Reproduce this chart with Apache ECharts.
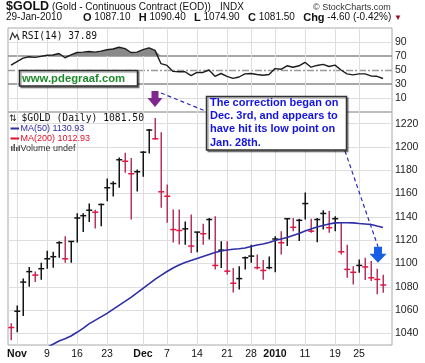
<!DOCTYPE html>
<html><head><meta charset="utf-8">
<script src="https://cdn.jsdelivr.net/npm/echarts/dist/echarts.min.js"></script>
<style>html,body{margin:0;padding:0;background:#fff}#c{width:425px;height:363px}</style>
</head><body><div id="c"></div><script>
const dates = ['10/30','11/2','11/3','11/4','11/5','11/6','11/9','11/10','11/11','11/12','11/13','11/16','11/17','11/18','11/19','11/20','11/23','11/24','11/25','11/26','11/27','11/30','12/1','12/2','12/3','12/4','12/7','12/8','12/9','12/10','12/11','12/14','12/15','12/16','12/17','12/18','12/21','12/22','12/23','12/24','12/28','12/29','12/30','12/31','1/4','1/5','1/6','1/7','1/8','1/11','1/12','1/13','1/14','1/15','1/19','1/20','1/21','1/22','1/25','1/26','1/27','1/28','1/29'];
const highs = [1048.6,1064,1087,1097,1093,1100.6,1111,1110,1119,1123.4,1119,1143,1143,1151.4,1146,1151.4,1172.9,1170.6,1191,1195,1190.6,1180.6,1196.3,1215.5,1224.9,1212.6,1167.7,1146.3,1146.3,1136,1142,1126.9,1134,1139,1140.6,1119,1119,1096,1097.7,1106,1116,1107.7,1103,1106,1123.4,1127.7,1139,1139,1138.4,1161,1138.4,1139,1145.7,1145,1140.6,1134.9,1116,1097.7,1103.4,1104.9,1102,1095.5,1090.4];
const lows = [1034,1041,1055,1080,1084,1086,1095.5,1096.4,1105,1100.7,1100.7,1118,1127,1135.5,1130,1132,1153.4,1157.4,1165,1177.9,1137.7,1161.7,1174.4,1194.3,1206.3,1147.8,1134.9,1118,1116.3,1116,1109,1109.7,1116,1120.6,1094.9,1096,1090.6,1075,1077.7,1094.9,1100.7,1094.9,1086,1095,1092.4,1107.7,1115,1127.7,1119.3,1137.7,1126.4,1118.3,1129.2,1126.4,1127.7,1107.7,1087.7,1082,1092,1085.7,1085,1073.5,1074.9];
const closes = [1045,1059,1084,1093,1090,1095.5,1104,1105.8,1117.8,1104,1118.9,1139,1141,1145.7,1144,1150.6,1165,1168.6,1189,1187.7,1177,1178.7,1195.5,1214.5,1207,1161.5,1157.7,1129.1,1128.3,1129.7,1114.9,1126.9,1125.5,1137.7,1098.3,1111.4,1093.4,1083,1087,1104.9,1106.3,1096.4,1094,1096.4,1121,1117.8,1138.4,1131,1137,1151.4,1127.7,1137.7,1142.9,1130.7,1138.4,1110,1094.9,1092.4,1098.3,1097,1087.7,1086.3,1081.5];
const priorClose = 1047.0;
const ma50 = [null,null,null,null,null,null,1028,1030.6,1033.4,1035.3,1037.7,1040.9,1044.3,1048.1,1051.1,1054.1,1057.1,1060.6,1064,1067.4,1070.9,1074.7,1078.6,1082.4,1086.3,1089.7,1093.1,1096.1,1098.7,1100.9,1102.6,1104.3,1106,1107.7,1109.4,1110.7,1111.6,1112.2,1112.6,1113.3,1114.6,1115.9,1116.7,1118,1119.7,1121,1122.3,1124,1125.7,1127.9,1129.6,1131.3,1132.6,1133.9,1134.8,1134.9,1134.9,1134.8,1134.3,1133.9,1133.4,1132.1,1130.93];
const rsi = [57,62,67,69,68,69.5,71,71.5,73.5,67.5,71.5,75,75.5,76.5,75.5,77,79,80,82.5,80.5,75,75.5,79,81.5,78,59,56.5,48,47.5,47.5,42,46.5,46.5,50,41,45,41,38,40,44.5,45,43.5,42.5,43.5,52,51,56,54,56,61,54,56.5,58,55,57,50,44.5,43,44.5,44.5,41.5,41,37.89];
const priceTicks = [1040,1060,1080,1100,1120,1140,1160,1180,1200,1220];
const rsiTicks = [10,30,50,70,90];
const weekDates = ['11/2','11/9','11/16','11/23','12/1','12/7','12/14','12/21','12/28','1/4','1/11','1/19','1/25'];
const weekLabels = ['Nov','9','16','23','Dec','7','14','21','28','2010','11','19','25'];
const boldLabels = ['Nov','Dec','2010'];

const cats = dates.concat(['']);
const FONT = '"Liberation Sans", Arial, sans-serif';
const MONO = '"DejaVu Sans Mono", monospace';

function renderBar(params, api) {
  const i = api.value(0);
  const h = api.coord([i, api.value(1)]);
  const l = api.coord([i, api.value(2)]);
  const c = api.coord([i, api.value(3)]);
  const prev = i > 0 ? closes[i - 1] : priorClose;
  const up = closes[i] >= prev;
  const lc = up ? '#141414' : '#b4345e';
  const tc = up ? '#141414' : '#e4143f';
  const x = Math.round(h[0]) + 0.25;
  return {type: 'group', children: [
    {type: 'line', shape: {x1: x, y1: h[1], x2: x, y2: l[1]}, style: {stroke: lc, lineWidth: 1.5}},
    {type: 'line', shape: {x1: x - 3, y1: c[1], x2: x + 3, y2: c[1]}, style: {stroke: tc, lineWidth: 1.5}}
  ]};
}

const gridLine = {color: '#dedede', width: 1, type: 'solid'};
const option = {
  animation: false,
  backgroundColor: '#fff',
  grid: [
    {left: 8, width: 384, top: 112, height: 233, show: true, borderColor: '#a8a8a8', borderWidth: 1},
    {left: 8, width: 384, top: 28, height: 84, show: true, borderColor: '#a8a8a8', borderWidth: 1}
  ],
  xAxis: [
    {type: 'category', gridIndex: 0, data: cats, boundaryGap: true,
     axisLine: {show: false}, axisTick: {show: false}, splitLine: {show: false},
     axisLabel: {interval: (idx, v) => weekDates.includes(v), margin: 4, fontSize: 10.5, fontFamily: FONT, color: '#111',
       formatter: v => { const k = weekDates.indexOf(v); if (k < 0) return ''; const t = weekLabels[k]; return boldLabels.includes(t) ? '{b|' + t + '}' : t; },
       rich: {b: {fontWeight: 'bold', fontSize: 10.5, fontFamily: FONT, color: '#111'}}}},
    {type: 'category', gridIndex: 1, data: cats, boundaryGap: true,
     axisLine: {show: false}, axisTick: {show: false}, axisLabel: {show: false}, splitLine: {show: false}}
  ],
  yAxis: [
    {type: 'value', gridIndex: 0, position: 'right', min: 1030, max: 1230, interval: 10,
     axisLine: {show: false}, axisTick: {show: false}, splitLine: {show: false},
     axisLabel: {formatter: v => priceTicks.includes(Math.round(v)) ? String(Math.round(v)) : '', margin: 3, fontSize: 10.5, fontFamily: FONT, color: '#222'}},
    {type: 'value', gridIndex: 1, position: 'right', min: -10, max: 110, interval: 10,
     axisLine: {show: false}, axisTick: {show: false}, splitLine: {show: false},
     axisLabel: {formatter: v => rsiTicks.includes(Math.round(v)) ? String(Math.round(v)) : '', margin: 3, fontSize: 10.5, fontFamily: FONT, color: '#222'}}
  ],
  series: [
    {type: 'custom', name: 'GOLD', xAxisIndex: 0, yAxisIndex: 0, z: 3, clip: true,
     data: dates.map((d, i) => [i, highs[i], lows[i], closes[i]]),
     encode: {x: 0, y: [1, 2, 3]}, renderItem: renderBar},
    {type: 'line', name: 'MA(50)', xAxisIndex: 0, yAxisIndex: 0, z: 4, data: ma50, showSymbol: false, symbol: 'none',
     lineStyle: {color: '#2e2ea6', width: 1.6}, itemStyle: {color: '#2e2ea6'}, clip: true,
     markLine: {z: 1, silent: true, symbol: ['none', 'none'], label: {show: false}, lineStyle: gridLine,
       data: priceTicks.map(v => ({yAxis: v})).concat(weekDates.map(d => ({xAxis: d})))}},
    {type: 'line', name: 'obBase', xAxisIndex: 1, yAxisIndex: 1, stack: 'ob', z: 2, silent: true,
     data: rsi.map(() => 70), symbol: 'none', lineStyle: {width: 0, opacity: 0}},
    {type: 'line', name: 'obFill', xAxisIndex: 1, yAxisIndex: 1, stack: 'ob', z: 2, silent: true,
     data: rsi.map(v => Math.max(v - 70, 0)), symbol: 'none', lineStyle: {width: 0, opacity: 0},
     areaStyle: {color: '#8a8a8a', opacity: 1}},
    {type: 'line', name: 'RSI(14)', xAxisIndex: 1, yAxisIndex: 1, z: 4, data: rsi, symbol: 'none',
     lineStyle: {color: '#1c1c1c', width: 1.4},
     markLine: {z: 1, silent: true, symbol: ['none', 'none'], label: {show: false}, lineStyle: gridLine,
       data: [
         {yAxis: 90}, {yAxis: 10},
         {yAxis: 70, lineStyle: {color: '#8a8a8a', width: 1.6, type: 'solid'}},
         {yAxis: 30, lineStyle: {color: '#8a8a8a', width: 1.6, type: 'solid'}},
         {yAxis: 50, lineStyle: {color: '#9a9a9a', width: 1.4, type: [7, 2, 2, 2]}}
       ].concat(weekDates.map(d => ({xAxis: d})))}}
  ]
};

const chart = echarts.init(document.getElementById('c'), null, {renderer: 'canvas', width: 425, height: 363});
chart.setOption(option);

const iDec3 = dates.indexOf('12/3');
const iJan28 = dates.indexOf('1/28');
const pP = chart.convertToPixel({xAxisIndex: 0, yAxisIndex: 0}, [iDec3, highs[iDec3]]);
const pB = chart.convertToPixel({xAxisIndex: 0, yAxisIndex: 0}, [iJan28, highs[iJan28]]);
const tP = [pP[0], pP[1] - 11];
const tB = [pB[0] + 1, pB[1] - 6];

function arrow(t, sw, hw, color) {
  const [x, y] = t;
  return {type: 'polygon', z: 100, silent: true,
    shape: {points: [[x - sw, y - 16], [x + sw, y - 16], [x + sw, y - 9], [x + hw, y - 9], [x, y], [x - hw, y - 9], [x - sw, y - 9]]},
    style: {fill: color}};
}
function txt(x, y, text, font, fill, extra) {
  return Object.assign({type: 'text', x: x, y: y, z: 100, silent: true,
    style: Object.assign({text: text, font: font, fill: fill, verticalAlign: 'middle', align: 'left'}, extra || {})});
}

const g = [];
// header
g.push(txt(6, 7, '$GOLD', 'bold 12.5px ' + FONT, '#111'));
g.push(txt(52, 7.5, '(Gold - Continuous Contract (EOD))', '10px ' + FONT, '#111'));
g.push(txt(220, 7.5, 'INDX', '10px ' + FONT, '#111'));
g.push(txt(313, 7.5, '\u00a9 StockCharts.com', '9px ' + FONT, '#333'));
g.push(txt(6, 17.5, '29-Jan-2010', '10px ' + FONT, '#111'));
g.push({type: 'text', x: 83, y: 17.5, z: 100, silent: true, style: {
  text: '{l|O} {n|1087.10}   {l|H} {n|1090.40}   {l|L} {n|1074.90}   {l|C} {n|1081.50}   {l|Chg} {n|-4.60 (-0.42%)} {r|\u25bc}',
  verticalAlign: 'middle', font: '10px ' + FONT, fill: '#111',
  rich: {l: {fontWeight: 'bold', fontSize: 11, fontFamily: FONT, fill: '#111'},
         n: {fontSize: 10, fontFamily: FONT, fill: '#111'},
         r: {fontSize: 8, fontFamily: FONT, fill: '#9a1020'}}}});
// RSI label
g.push({type: 'polyline', z: 100, silent: true, shape: {points: [[10, 40], [12.5, 33], [15, 37.5], [17, 34.5], [19, 40]]}, style: {stroke: '#333', lineWidth: 1.2, fill: null}});
g.push(txt(22, 36, 'RSI(14) 37.89', '9.6px ' + MONO, '#111'));
// www box
g.push({type: 'rect', z: 100, silent: true, shape: {x: 19.5, y: 70.5, width: 118, height: 15.5},
  style: {fill: '#fff', stroke: '#2a2a2a', lineWidth: 1.5, shadowColor: 'rgba(0,0,0,0.35)', shadowOffsetX: 1.5, shadowOffsetY: 1.5, shadowBlur: 1}});
g.push(txt(22, 78.5, 'www.pdegraaf.com', 'bold 11.3px ' + FONT, '#1f8a2c'));
// main legend
g.push(txt(9, 118.5, '\u21c5', '9px "DejaVu Sans"', '#222'));
g.push(txt(21.5, 118.5, '$GOLD (Daily) 1081.50', '9.7px ' + MONO, '#111'));
g.push({type: 'line', z: 100, silent: true, shape: {x1: 10.5, y1: 128.5, x2: 19, y2: 128.5}, style: {stroke: '#2e2ea6', lineWidth: 2}});
g.push(txt(20.5, 128.5, 'MA(50) 1130.93', '9px ' + FONT, '#2e2ea6'));
g.push({type: 'line', z: 100, silent: true, shape: {x1: 10.5, y1: 138.5, x2: 19, y2: 138.5}, style: {stroke: '#e0102e', lineWidth: 2}});
g.push(txt(20.5, 138.5, 'MA(200) 1012.93', '9px ' + FONT, '#e0102e'));
[[11, 146, 1.5, 5], [13.5, 144, 1.5, 7], [16, 147, 1.5, 4], [18.5, 145.5, 1.5, 5.5]].forEach(r => g.push({type: 'rect', z: 100, silent: true, shape: {x: r[0], y: r[1], width: r[2], height: r[3]}, style: {fill: '#555'}}));
g.push(txt(20.5, 148.5, 'Volume undef', '9px ' + FONT, '#333'));
// annotations
g.push(arrow(tP, 3.5, 7.5, '#7f278f'));
g.push(arrow(tB, 4, 8.5, '#1a5ee8'));
g.push({type: 'line', z: 99, silent: true, shape: {x1: tP[0] + 6, y1: tP[1] - 14, x2: 206.5, y2: 111.5}, style: {stroke: '#2b2bb8', lineWidth: 1.2, lineDash: [4, 3]}});
g.push({type: 'line', z: 99, silent: true, shape: {x1: 345, y1: 151, x2: tB[0], y2: tB[1] - 16}, style: {stroke: '#2b2bb8', lineWidth: 1.2, lineDash: [4, 3]}});
g.push({type: 'rect', z: 100, silent: true, shape: {x: 206.5, y: 96.5, width: 140, height: 53.5},
  style: {fill: '#fff', stroke: '#333', lineWidth: 1.5, shadowColor: 'rgba(0,0,0,0.35)', shadowOffsetX: 1.5, shadowOffsetY: 1.5, shadowBlur: 1}});
['The correction began on', 'Dec. 3rd, and appears to', 'have hit its low point on', 'Jan. 28th.'].forEach((s, k) =>
  g.push(txt(210, 102.5 + k * 13.33, s, 'bold 11px ' + FONT, '#1414e0')));

chart.setOption({graphic: g});
</script></body></html>
